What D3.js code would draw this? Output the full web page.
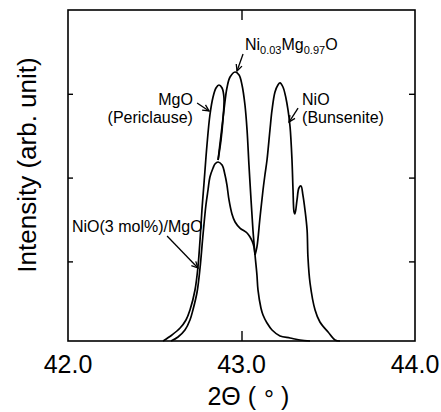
<!DOCTYPE html>
<html><head><meta charset="utf-8">
<script src="https://cdn.jsdelivr.net/npm/d3@7"></script>
<style>
body{margin:0;background:#fff}
svg{display:block}
text{font-family:"Liberation Sans",Arial,Helvetica,sans-serif;fill:#000}
</style>
</head><body>
<svg id="c" width="441" height="412"></svg>
<script>
// ---- data (2θ in degrees, intensity in arb. units) ----
const xTickValues = [42.0, 43.0, 44.0];
const xTickLabels = ["42.0", "43.0", "44.0"];
const yTickValues = [1, 2, 3];

const mgo = [[42.548,0.05],[42.599,0.122],[42.646,0.205],[42.680,0.301],[42.703,0.420],[42.732,0.659],
  [42.749,0.933],[42.761,1.255],[42.772,1.613],[42.784,1.935],[42.801,2.389],[42.818,2.747],[42.836,2.962],
  [42.853,3.069],[42.870,3.105],[42.888,3.069],[42.899,2.950],[42.893,2.687],[42.882,2.449],[42.865,2.210]];

const ni003 = [[42.865,2.210],[42.882,2.508],[42.899,2.807],[42.916,3.069],[42.934,3.200],[42.963,3.260],
  [42.986,3.224],[43.003,3.105],[43.020,2.866],[43.032,2.568],[43.043,2.150],[43.055,1.733],[43.066,1.375],
  [43.078,1.076],[43.089,0.838],[43.095,0.659],[43.112,0.444],[43.124,0.360],[43.147,0.265],[43.176,0.181],
  [43.222,0.110],[43.280,0.086],[43.337,0.062],[43.395,0.05]];

const nio3mgo = [[42.594,0.05],[42.634,0.098],[42.674,0.181],[42.703,0.301],[42.720,0.420],[42.744,0.635],
  [42.761,0.921],[42.778,1.315],[42.795,1.673],[42.807,1.852],[42.818,2.007],[42.836,2.114],[42.847,2.162],
  [42.865,2.186],[42.888,2.150],[42.905,2.031],[42.916,1.912],[42.928,1.733],[42.945,1.566],[42.963,1.470],
  [42.991,1.398],[43.032,1.339],[43.049,1.291],[43.061,1.243],[43.072,1.172],[43.078,1.076]];

const nio = [[43.078,1.076],[43.089,1.172],[43.107,1.530],[43.124,1.852],[43.135,2.031],[43.147,2.210],
  [43.164,2.568],[43.176,2.807],[43.193,3.021],[43.210,3.105],[43.222,3.130],[43.239,3.081],[43.256,2.950],
  [43.268,2.807],[43.280,2.604],[43.291,2.210],[43.297,1.852],[43.303,1.589],[43.308,1.566],[43.320,1.733],
  [43.331,1.876],[43.343,1.900],[43.354,1.792],[43.366,1.613],[43.378,1.375],[43.383,1.052],[43.395,0.742],
  [43.424,0.420],[43.452,0.277],[43.499,0.157],[43.539,0.062],[43.568,0.05]];

const series = [mgo, ni003, nio3mgo, nio];

// annotation arrows: [from, to] in data units
const arrows = [
  [[43.009,3.475],[42.974,3.272]],
  [[42.744,2.890],[42.813,2.795]],
  [[43.326,2.830],[43.274,2.663]],
  [[42.571,1.303],[42.749,0.921]]
];

// ---- layout ----
const svg = d3.select("#c");
const L = 68, R = 415, T = 10, B = 341;
const x = d3.scaleLinear().domain([42, 44]).range([L, R]);
const y = d3.scaleLinear().domain([0.05, 4.0]).range([B, T]);

// curves
const line = d3.line().x(d => x(d[0])).y(d => y(d[1])).curve(d3.curveCatmullRom.alpha(0.5));
svg.append("g").selectAll("path").data(series).join("path")
  .attr("d", line).attr("fill", "none").attr("stroke", "#000")
  .attr("stroke-width", 1.7).attr("stroke-linejoin", "round");

// frame
svg.append("rect").attr("x", L).attr("y", T).attr("width", R - L).attr("height", B - T)
  .attr("fill", "none").attr("stroke", "#000").attr("stroke-width", 1.6);

// axes ticks (inward)
const axB = d3.axisBottom(x).tickValues([43.0]).tickSizeInner(-10).tickSizeOuter(0).tickFormat("");
const axT = d3.axisTop(x).tickValues([43.0]).tickSizeInner(-10).tickSizeOuter(0).tickFormat("");
const axL = d3.axisLeft(y).tickValues(yTickValues).tickSizeInner(-5).tickSizeOuter(0).tickFormat("");
const axR = d3.axisRight(y).tickValues(yTickValues).tickSizeInner(-6).tickSizeOuter(0).tickFormat("");
[[axB, `translate(0,${B})`], [axT, `translate(0,${T})`], [axL, `translate(${L},0)`], [axR, `translate(${R},0)`]]
  .forEach(([a, t]) => {
    const g = svg.append("g").attr("transform", t).call(a);
    g.select(".domain").remove();
    g.selectAll("line").attr("stroke", "#000").attr("stroke-width", 1.4);
  });

// x tick labels
svg.append("g").selectAll("text").data(xTickValues).join("text")
  .attr("x", d => x(d)).attr("y", 373).attr("text-anchor", "middle")
  .attr("font-size", 25).text((d, i) => xTickLabels[i]);

// axis titles
svg.append("text").attr("x", 256).attr("y", 405).attr("text-anchor", "end").attr("font-size", 25).text("2Θ (");
svg.append("text").attr("x", 269).attr("y", 408).attr("text-anchor", "middle").attr("font-size", 25).text("°");
svg.append("text").attr("x", 281).attr("y", 405).attr("text-anchor", "start").attr("font-size", 25).text(")");

svg.append("text").attr("transform", "translate(36,165) rotate(-90)")
  .attr("text-anchor", "middle").attr("font-size", 26).text("Intensity (arb. unit)");

// annotations
const fs = 16;
const t1 = svg.append("text").attr("x", x(43.020)).attr("y", y(3.523)).attr("font-size", fs);
t1.append("tspan").text("Ni");
t1.append("tspan").attr("font-size", 11).attr("dy", 4).text("0.03");
t1.append("tspan").attr("dy", -4).text("Mg");
t1.append("tspan").attr("font-size", 11).attr("dy", 4).text("0.97");
t1.append("tspan").attr("dy", -4).text("O");

svg.append("text").attr("x", x(42.720)).attr("y", y(2.866)).attr("font-size", fs).attr("text-anchor", "end").text("MgO");
svg.append("text").attr("x", x(42.720)).attr("y", y(2.651)).attr("font-size", fs).attr("text-anchor", "end").text("(Periclause)");
svg.append("text").attr("x", x(43.349)).attr("y", y(2.866)).attr("font-size", fs).text("NiO");
svg.append("text").attr("x", x(43.349)).attr("y", y(2.651)).attr("font-size", fs).text("(Bunsenite)");
svg.append("text").attr("x", x(42.023)).attr("y", y(1.351)).attr("font-size", fs).text("NiO(3 mol%)/MgO");

// arrows
const ag = svg.append("g").attr("stroke", "#000").attr("stroke-width", 1.3).attr("fill", "none");
arrows.forEach(([a, b]) => {
  const x1 = x(a[0]), y1 = y(a[1]), x2 = x(b[0]), y2 = y(b[1]);
  const ang = Math.atan2(y2 - y1, x2 - x1), h = 7, s = 0.45;
  ag.append("line").attr("x1", x1).attr("y1", y1).attr("x2", x2).attr("y2", y2);
  ag.append("path").attr("d",
    `M${x2 - h * Math.cos(ang - s)},${y2 - h * Math.sin(ang - s)}L${x2},${y2}L${x2 - h * Math.cos(ang + s)},${y2 - h * Math.sin(ang + s)}`);
});
</script>
</body></html>
